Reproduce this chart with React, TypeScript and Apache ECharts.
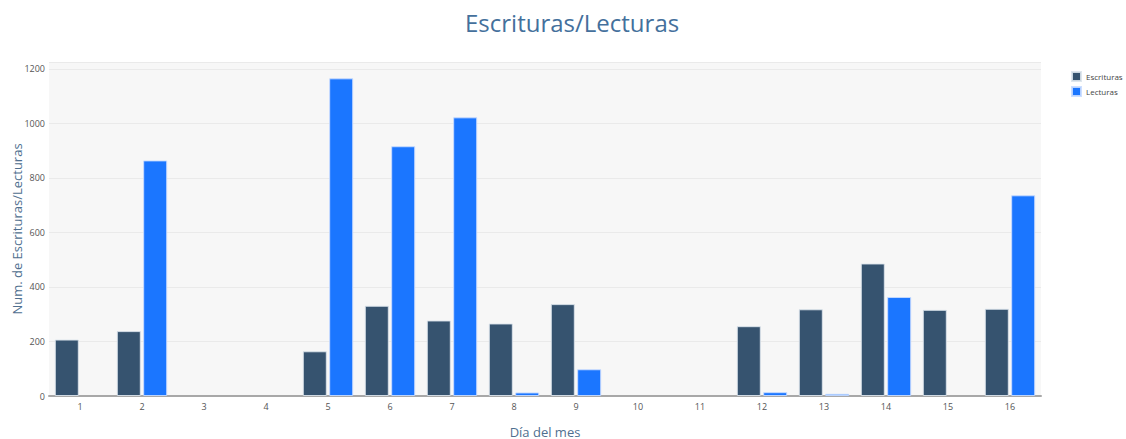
import React, { useEffect, useRef } from "react";
import * as echarts from "echarts";

const dias = ["1", "2", "3", "4", "5", "6", "7", "8", "9", "10", "11", "12", "13", "14", "15", "16"];
const escrituras = [207, 238, 0, 0, 164, 331, 277, 266, 337, 0, 0, 256, 318, 486, 316, 320];
const lecturas = [0, 864, 0, 0, 1165, 916, 1022, 13, 98, 0, 0, 14, 8, 363, 0, 736];

const FONT = "'Open Sans', 'DejaVu Sans', sans-serif";
const noZero = (arr: number[]) => arr.map((v) => (v === 0 ? null : v));

export default function App() {
  const ref = useRef<HTMLDivElement>(null);
  useEffect(() => {
    if (!ref.current) return;
    const chart = echarts.init(ref.current, undefined, { renderer: "svg" });
    chart.setOption({
      animation: false,
      backgroundColor: "#ffffff",
      textStyle: { fontFamily: FONT },
      title: {
        text: "Escrituras/Lecturas",
        left: 460,
        top: 5,
        textStyle: { fontFamily: FONT, fontSize: 24, fontWeight: "normal", color: "#44709c" },
      },
      legend: {
        orient: "vertical",
        left: 1066,
        top: 66,
        width: 58,
        itemWidth: 9,
        itemHeight: 9,
        itemGap: 4,
        icon: "rect",
        textStyle: { fontFamily: FONT, fontSize: 8, color: "#444", overflow: "none" },
        data: ["Escrituras", "Lecturas"],
      },
      grid: {
        left: 49,
        right: 85,
        top: 62,
        bottom: 43,
        outerBoundsMode: "none",
        containLabel: false,
        show: true,
        backgroundColor: "#f7f7f7",
        borderWidth: 0,
      },
      xAxis: {
        type: "category",
        data: dias,
        name: "Día del mes",
        nameLocation: "middle",
        nameGap: 29,
        nameMoveOverlap: false,
        nameTextStyle: { fontFamily: FONT, fontSize: 13, color: "#4f6f8f" },
        axisLine: { lineStyle: { color: "#a8a8a8", width: 2 } },
        axisTick: { show: false },
        axisLabel: { fontFamily: FONT, fontSize: 9, color: "#555", margin: 6 },
      },
      yAxis: {
        type: "value",
        min: 0,
        max: 1225,
        interval: 200,
        name: "Num. de Escrituras/Lecturas",
        nameLocation: "middle",
        nameGap: 26,
        nameMoveOverlap: false,
        nameTextStyle: { fontFamily: FONT, fontSize: 13, color: "#4f6f8f" },
        axisLine: { show: false },
        axisTick: { show: false },
        axisLabel: {
          fontFamily: FONT,
          fontSize: 9,
          color: "#555",
          margin: 4,
          showMaxLabel: false,
          formatter: (v: number) => String(v),
        },
        splitLine: { lineStyle: { color: "#eaeaea", width: 1 } },
      },
      series: [
        {
          name: "Escrituras",
          type: "bar",
          data: noZero(escrituras),
          barWidth: 24,
          barGap: "10%",
          itemStyle: { color: "#36536f", borderColor: "rgba(220,228,236,0.9)", borderWidth: 1 },
        },
        {
          name: "Lecturas",
          type: "bar",
          data: noZero(lecturas),
          barWidth: 24,
          barGap: "10%",
          itemStyle: { color: "#1b76ff", borderColor: "rgba(200,220,255,0.9)", borderWidth: 1 },
        },
      ],
    });
    return () => chart.dispose();
  }, []);
  return (
    <div
      ref={ref}
      style={{ position: "absolute", left: 0, top: 0, width: 1126, height: 439 }}
    />
  );
}
